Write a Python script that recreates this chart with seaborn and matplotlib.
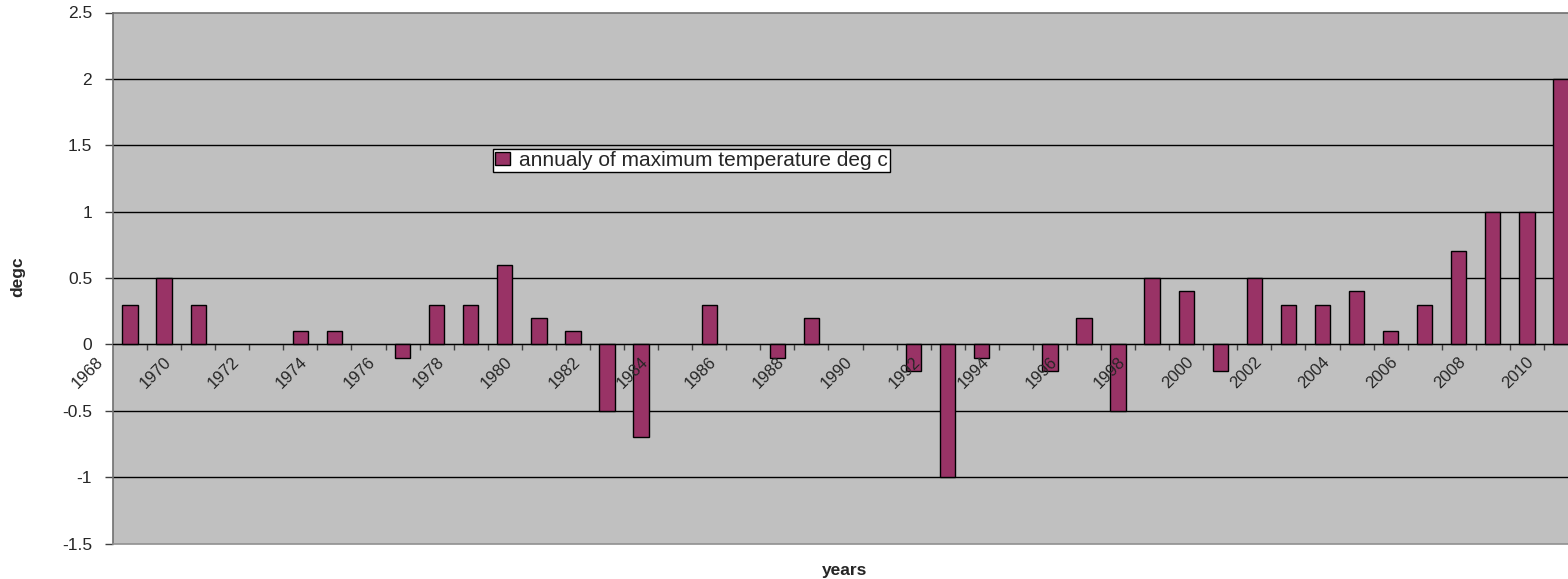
import seaborn as sns
import pandas as pd
import matplotlib.pyplot as plt
import matplotlib.transforms as mtransforms
from matplotlib.patches import Patch

years = list(range(1968, 2011))
anomaly = [0.3, 0.5, 0.3, 0.0, 0.0, 0.1, 0.1, 0.0, -0.1, 0.3,
           0.3, 0.6, 0.2, 0.1, -0.5, -0.7, 0.0, 0.3, 0.0, -0.1,
           0.2, 0.0, 0.0, -0.2, -1.0, -0.1, 0.0, -0.2, 0.2, -0.5,
           0.5, 0.4, -0.2, 0.5, 0.3, 0.3, 0.4, 0.1, 0.3, 0.7,
           1.0, 1.0, 2.0]
y_ticks = [-1.5, -1, -0.5, 0, 0.5, 1, 1.5, 2, 2.5]
y_labels = ["-1.5", "-1", "-0.5", "0", "0.5", "1", "1.5", "2", "2.5"]
series_name = "annualy of maximum temperature deg c"

df = pd.DataFrame({"year": [str(y) for y in years], "value": anomaly})

sns.set_style("white")
plt.rcParams['font.family'] = ['Liberation Sans', 'DejaVu Sans']

W, H = 1568, 579
fig = plt.figure(figsize=(W / 100, H / 100), dpi=100)
ax = fig.add_axes([113 / W, 35.5 / H, (1578 - 113) / W, 531 / H])
ax.set_facecolor("#C0C0C0")

sns.barplot(data=df, x="year", y="value", color="#993366", saturation=1,
            edgecolor="black", linewidth=1, width=0.45, ax=ax, zorder=2)
# zero-height bars are not visible in the original
for p in ax.patches:
    if p.get_height() == 0:
        p.set_linewidth(0)

ax.set_ylim(-1.5, 2.5)
ax.set_xlim(-0.5, len(years) - 0.5)
ax.set_yticks(y_ticks)
ax.set_yticklabels(y_labels, fontsize=12.5)
for y in y_ticks[1:-1]:
    ax.axhline(y, color="black", lw=1, zorder=1)

# category axis at zero, ticks between categories
ax.spines['bottom'].set_position(('data', 0))
ax.spines['bottom'].set_color("black")
ax.spines['bottom'].set_zorder(4)
ax.xaxis.set_zorder(3.5)
ax.set_xticks(range(0, len(years), 2))
ax.set_xticklabels([str(y) for y in years[::2]], rotation=45, ha="right", va="top", fontsize=12)
ax.set_xticks([i + 0.5 for i in range(len(years))], minor=True)
ax.tick_params(axis="x", which="major", length=0, pad=7)
ax.tick_params(axis="x", which="minor", length=4, width=1, color="#404040", direction="out", bottom=True)
ax.tick_params(axis="y", length=6, width=1, color="#404040", direction="out", left=True, pad=9)
offset = mtransforms.ScaledTranslation(-24 / 100, 0, fig.dpi_scale_trans)
for lbl in ax.get_xticklabels():
    lbl.set_transform(lbl.get_transform() + offset)

for side in ['left', 'top', 'right']:
    ax.spines[side].set_color("#707070")
    ax.spines[side].set_linewidth(1.2)
ax.axhline(-1.5, color="#909090", lw=1.2, clip_on=False, zorder=5)

ax.set_xlabel("")
ax.set_ylabel("")
fig.text(18 / W, 1 - 277 / H, "degc", rotation=90, ha="center", va="center",
         fontsize=12.5, fontweight="bold")
fig.text(845 / W, 1 - 570 / H, "years", ha="center", va="center",
         fontsize=12.5, fontweight="bold")

handle = Patch(facecolor="#993366", edgecolor="black", linewidth=1)
leg = ax.legend([handle], [series_name], loc="upper left",
                bbox_to_anchor=(493 / W, 1 - 149 / H), bbox_transform=fig.transFigure,
                fontsize=15, frameon=True, fancybox=False, framealpha=1,
                edgecolor="black", borderaxespad=0, borderpad=0.1,
                handlelength=0.7, handleheight=0.55, handletextpad=0.45)
leg.get_frame().set_linewidth(1)
leg.set_zorder(6)

fig.savefig("out.png", dpi=100)
